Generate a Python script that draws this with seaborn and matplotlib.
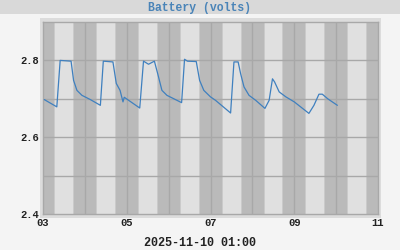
import matplotlib
matplotlib.use("Agg")
import matplotlib.pyplot as plt
from matplotlib.patches import Rectangle
import seaborn as sns
import pandas as pd

# data: day of month (Nov 2025, fractional) and battery volts
day = [3.03, 3.33, 3.41, 3.67, 3.73, 3.81, 3.93, 4.13, 4.37, 4.44, 4.67, 4.75, 4.84,
       4.91, 4.94, 5.31, 5.40, 5.52, 5.66, 5.74, 5.84, 5.96, 6.31, 6.38, 6.45,
       6.66, 6.74, 6.84, 7.00, 7.12, 7.48, 7.56, 7.66, 7.72, 7.80, 7.92, 8.08,
       8.30, 8.40, 8.48, 8.53, 8.64, 8.80, 9.00, 9.35, 9.47, 9.59, 9.67, 9.80, 10.03]
volts = [2.698, 2.679, 2.800, 2.798, 2.748, 2.722, 2.709, 2.698, 2.683, 2.798, 2.796,
         2.740, 2.722, 2.692, 2.704, 2.676, 2.798, 2.790, 2.798, 2.765, 2.722, 2.709,
         2.690, 2.803, 2.798, 2.797, 2.748, 2.722, 2.705, 2.696, 2.663, 2.796, 2.796,
         2.765, 2.731, 2.709, 2.696, 2.675, 2.696, 2.752, 2.744, 2.718, 2.705, 2.692,
         2.662, 2.683, 2.712, 2.712, 2.700, 2.683]
xticks = [3, 5, 7, 9, 11]
xtick_labels = ["03", "05", "07", "09", "11"]
yticks = [2.4, 2.6, 2.8]
ytick_labels = ["2.4", "2.6", "2.8"]
days = list(range(3, 11))
title = "Battery (volts)"
xlabel = "2025-11-10 01:00"

sns.set_style("white")
plt.rcParams['font.family'] = ['Liberation Mono', 'DejaVu Sans Mono']

fig = plt.figure(figsize=(4, 2.5), dpi=100, facecolor="#f4f4f4")
# title band
fig.patches.append(Rectangle((0, 1 - 14 / 250), 1, 14 / 250, transform=fig.transFigure,
                             facecolor="#d9d9d9", edgecolor="none", zorder=-2))
# light frame around plot
fig.patches.append(Rectangle((40 / 400, 1 - 218 / 250), 341 / 400, 200 / 250,
                             transform=fig.transFigure, facecolor="#dcdcdc",
                             edgecolor="none", zorder=-2))
fig.text(0.5, 1 - 7.5 / 250, title, ha="center", va="center", color="#4a84b8",
         fontsize=8.3, fontweight="bold")

ax = fig.add_axes([43 / 400, 1 - 214 / 250, 335 / 400, 192 / 250])
ax.set_facecolor("#e0e0e0")

# night / day bands
for d in days:
    ax.axvspan(d, d + 6.4 / 24, color="#bababa", lw=0, zorder=0)
    ax.axvspan(d + 6.4 / 24, d + 7.0 / 24, color="#cacaca", lw=0, zorder=0)
    ax.axvspan(d + 17.2 / 24, d + 17.8 / 24, color="#cacaca", lw=0, zorder=0)
    ax.axvspan(d + 17.8 / 24, d + 1, color="#bababa", lw=0, zorder=0)

for d in range(4, 11):
    ax.axvline(d, color="#a8a8a8", lw=1.0, zorder=1)
for v in [2.5, 2.6, 2.7, 2.8]:
    ax.axhline(v, color="#a8a8a8", lw=1.0, zorder=1)

df = pd.DataFrame({"day": day, "volts": volts})
sns.lineplot(data=df, x="day", y="volts", ax=ax, color="#3f80bf", lw=0.9, zorder=3)

ax.set_xlim(3, 11)
ax.set_ylim(2.4, 2.9)
ax.set_xticks(xticks)
ax.set_xticklabels(xtick_labels)
ax.set_yticks(yticks)
ax.set_yticklabels(ytick_labels)
ax.tick_params(axis="both", length=0, labelsize=7.6, colors="#222222", pad=3)
for lab in ax.get_xticklabels() + ax.get_yticklabels():
    lab.set_fontweight("bold")
ax.set_xlabel("")
ax.set_ylabel("")
for s in ax.spines.values():
    s.set_color("#a8a8a8")
    s.set_linewidth(1.0)

fig.text(0.5, 1 - 243 / 250, xlabel, ha="center", va="center", color="#222222",
         fontsize=8.5, fontweight="bold")

fig.savefig("out.png", dpi=100, facecolor=fig.get_facecolor())
